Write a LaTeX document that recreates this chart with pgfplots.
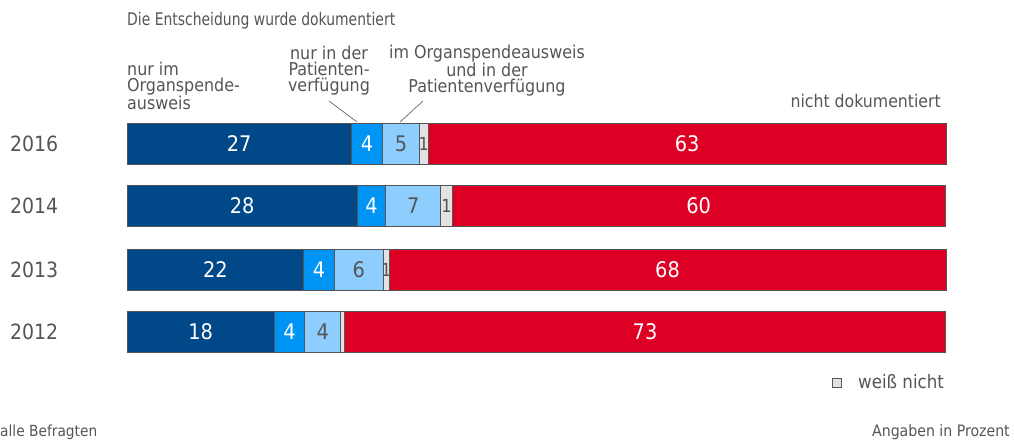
\documentclass[border=0pt]{standalone}
\usepackage{pgfplots}
\pgfplotsset{compat=1.18}
\usepackage{fontspec}
\setmainfont{DejaVu Sans Condensed}
\newfontfamily\titlefont[FakeStretch=0.89]{DejaVu Sans Condensed}
\definecolor{dblue}{RGB}{0,72,135}
\definecolor{mblue}{RGB}{0,148,245}
\definecolor{pblue}{RGB}{142,206,255}
\definecolor{wgray}{RGB}{226,226,226}
\definecolor{nred}{RGB}{222,0,36}
\definecolor{tgray}{RGB}{85,85,85}
\definecolor{edge}{RGB}{85,85,85}
\newcommand{\fs}[1]{\fontsize{#1}{16}\selectfont}
\protected\def\nolab{}
\begin{document}
\begin{tikzpicture}[x=1pt,y=1pt]
\path[use as bounding box] (0,0) rectangle (1014,-439);
\begin{axis}[
  at={(127pt,-439pt)}, anchor=south west,
  scale only axis, width=819pt, height=439pt,
  xmin=0, xmax=100, ymin=-439, ymax=0,
  xbar stacked, bar width=41pt,
  axis lines=none,
  clip=false,
  point meta=explicit symbolic,
  nodes near coords,
  every node near coord/.append style={anchor=center, inner sep=0pt, font=\fs{21.5}},
]
\addplot[fill=dblue, draw=edge, line width=0.9pt, every node near coord/.append style={text=white}]
 coordinates {(27.4,-143.5)[27] (28.1,-206)[28] (21.6,-269.5)[22] (18.0,-332)[18]};
\addplot[fill=mblue, draw=edge, line width=0.9pt, every node near coord/.append style={text=white}]
 coordinates {(3.8,-143.5)[4] (3.5,-206)[4] (3.7,-269.5)[4] (3.7,-332)[4]};
\addplot[fill=pblue, draw=edge, line width=0.9pt, every node near coord/.append style={text=tgray}]
 coordinates {(4.5,-143.5)[5] (6.7,-206)[7] (6.0,-269.5)[6] (4.4,-332)[4]};
\addplot[fill=wgray, draw=edge, line width=0.9pt, every node near coord/.append style={text=tgray, font=\fs{18}}]
 coordinates {(1.1,-143.5)[1] (1.4,-206)[1] (0.7,-269.5)[1] (0.5,-332)[\nolab]};
\addplot[fill=nred, draw=edge, line width=0.9pt, every node near coord/.append style={text=white}]
 coordinates {(63.2,-143.5)[63] (60.2,-206)[60] (68.0,-269.5)[68] (73.3,-332)[73]};
\end{axis}
\begin{scope}[every node/.style={inner sep=0pt, text=tgray}]
\node[anchor=west, font=\fs{21}] at (10,-143.5) {2016};
\node[anchor=west, font=\fs{21}] at (10,-206) {2014};
\node[anchor=west, font=\fs{21}] at (10,-269.5) {2013};
\node[anchor=west, font=\fs{21}] at (10,-332) {2012};
\node[anchor=west, font=\titlefont\fs{17.4}] at (127,-21) {Die Entscheidung wurde dokumentiert};
\node[anchor=west, align=left, font=\fs{17.7}] at (127,-86) {nur im\\Organspende-\\ausweis};
\node[anchor=center, align=center, font=\fs{17.7}] at (329,-71) {nur in der\\Patienten-\\verfügung};
\node[anchor=center, align=center, font=\fs{17.7}] at (487,-71) {im Organspendeausweis\\und in der\\Patientenverfügung};
\node[anchor=east, font=\fs{17.5}] at (941,-101) {nicht dokumentiert};
\node[anchor=west, font=\fs{18.5}] at (858,-382) {weiß nicht};
\node[anchor=west, font=\fs{15.3}] at (0,-432) {alle Befragten};
\node[anchor=east, font=\fs{15.7}] at (1010,-432) {Angaben in Prozent};
\end{scope}
\draw[tgray, line width=0.6pt] (329,-101) -- (357,-122);
\draw[tgray, line width=0.6pt] (423,-101) -- (400,-122);
\draw[fill=wgray, draw=tgray, line width=0.6pt] (832,-378) rectangle (841,-387);
\end{tikzpicture}
\end{document}
